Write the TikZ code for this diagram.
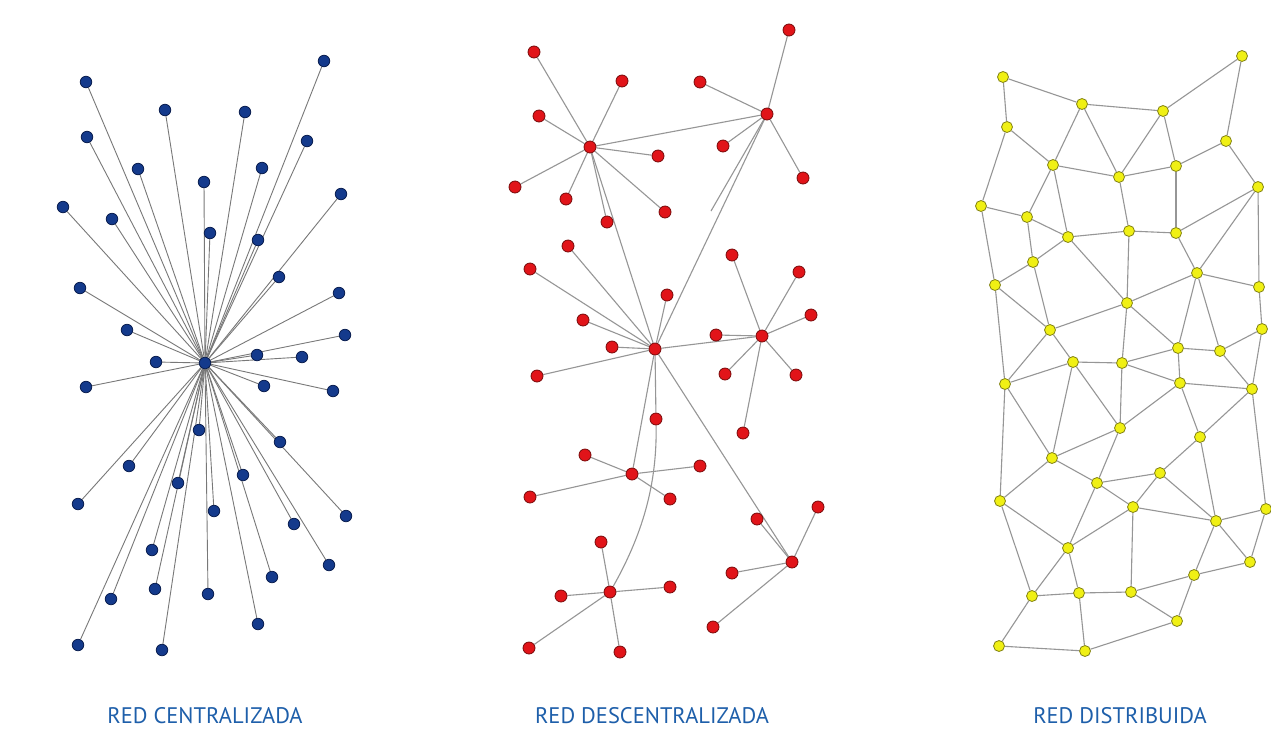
\documentclass[tikz,border=0pt]{standalone}
\usepackage{fontspec}
\newfontfamily\labfont{PT Sans}
\definecolor{bfill}{RGB}{20,58,140}
\definecolor{bdraw}{RGB}{10,30,80}
\definecolor{rfill}{RGB}{225,20,25}
\definecolor{rdraw}{RGB}{120,10,10}
\definecolor{yfill}{RGB}{240,240,20}
\definecolor{ydraw}{RGB}{130,130,20}
\definecolor{edgec}{RGB}{150,150,150}
\definecolor{bedge}{RGB}{120,120,120}
\definecolor{labc}{RGB}{30,95,170}
\pgfdeclarelayer{back}
\pgfdeclarelayer{bg}
\pgfsetlayers{back,bg,main}
\tikzset{
  bnode/.style={circle,fill=bfill,draw=bdraw,line width=0.8pt,inner sep=0pt,minimum size=11.5pt},
  rnode/.style={circle,fill=rfill,draw=rdraw,line width=0.8pt,inner sep=0pt,minimum size=12pt},
  ynode/.style={circle,fill=yfill,draw=ydraw,line width=0.8pt,inner sep=0pt,minimum size=11pt},
  bedge/.style={draw=bedge,line width=0.9pt},
  redge/.style={draw=edgec,line width=1.1pt},
  yedge/.style={draw=edgec,line width=1.1pt},
  lab/.style={text=labc,font=\labfont\fontsize{22.5}{26}\selectfont,inner sep=0pt,anchor=base}
}
\begin{document}
\begin{tikzpicture}[x=1pt,y=-1pt]
\begin{pgfonlayer}{back}
\fill[white] (0,0) rectangle (1271,729);
\end{pgfonlayer}
\useasboundingbox (0,0) rectangle (1271,729);
% ---------------- centralized ----------------
\node[bnode] (bc) at (205,363) {};
\foreach \n/\x/\y in {1/86/82,2/165/110,3/245/112,4/324/61,5/87/137,6/307/141,7/138/169,8/262/168,9/204/182,10/341/194,11/63/207,12/112/219,13/210/233,14/258/240,15/279/277,16/80/288,17/339/293,18/127/330,19/345/335,20/156/362,21/257/355,22/302/357,23/86/387,24/264/386,25/333/391,26/199/430,27/280/442,28/129/466,29/178/483,30/243/475,31/78/504,32/214/511,33/346/516,34/294/524,35/152/550,36/329/565,37/111/599,38/155/589,39/208/594,40/272/577,41/258/624,42/78/645,43/162/650}
{
  \node[bnode] (b\n) at (\x,\y) {};
  \begin{pgfonlayer}{bg}\draw[bedge] (bc) -- (b\n);\end{pgfonlayer}
}
% ---------------- decentralized ----------------
\foreach \n/\x/\y in {rA/590/147,rB/767/114,rC/655/349,rD/762/336,rE/632/474,rF/610/592,rG/792/562,
  a1/534/52,a2/622/81,a3/539/116,a4/658/156,a5/515/187,a6/566/199,a7/607/222,a8/665/212,
  q1/789/30,q2/700/82,q3/723/146,q4/803/178,
  c1/568/246,c2/530/269,c3/667/295,c4/583/320,c5/612/347,c6/537/376,c7/656/419,
  d1/732/255,d2/799/272,d3/811/315,d4/716/335,d5/725/374,d6/796/375,d7/743/433,
  e1/585/455,e2/700/466,e3/530/497,e4/670/499,
  f1/601/542,f2/670/587,f3/561/596,f4/529/648,f5/620/652,
  g1/818/507,g2/757/519,g3/732/573,g4/713/627}
  \node[rnode] (\n) at (\x,\y) {};
\coordinate (bx) at (711,211);
\begin{pgfonlayer}{bg}
\foreach \a/\b in {rA/a1,rA/a2,rA/a3,rA/a4,rA/a5,rA/a6,rA/a7,rA/a8,rA/rB,rA/rC,
  rB/q1,rB/q2,rB/q3,rB/q4,rB/rC,
  rC/c1,rC/c2,rC/c3,rC/c4,rC/c5,rC/c6,rC/c7,rC/rD,rC/rE,rC/rG,
  rD/d1,rD/d2,rD/d3,rD/d4,rD/d5,rD/d6,rD/d7,
  rE/e1,rE/e2,rE/e3,rE/e4,
  rF/f1,rF/f2,rF/f3,rF/f4,rF/f5,
  rG/g1,rG/g2,rG/g3,rG/g4}
  \draw[redge] (\a) -- (\b);
\draw[redge] (rB.center) -- (bx);
\draw[redge] (c7) .. controls (657,480) and (645,530) .. (rF);
\end{pgfonlayer}
% ---------------- distributed ----------------
\foreach \n/\x/\y in {1/1003/77,2/1082/104,3/1163/111,4/1242/56,5/1007/127,6/1226/141,7/1053/165,8/1119/177,9/1176/166,10/1258/187,11/981/206,12/1027/217,13/1068/237,14/1129/231,15/1176/233,16/1033/262,17/1197/273,18/995/285,19/1259/287,20/1127/303,21/1050/330,22/1262/329,23/1178/348,24/1220/351,25/1073/362,26/1122/363,27/1005/384,28/1180/383,29/1252/389,30/1120/428,31/1200/437,32/1052/458,33/1160/473,34/1097/483,35/1000/501,36/1133/507,37/1266/509,38/1216/521,39/1068/548,40/1250/562,41/1194/575,42/1032/596,43/1079/593,44/1131/592,45/1177/621,46/999/646,47/1085/651}
  \node[ynode] (y\n) at (\x,\y) {};
\begin{pgfonlayer}{bg}
\foreach \a/\b in {1/2,2/3,3/4,1/5,4/6,5/7,2/7,2/8,3/8,3/9,7/8,8/9,9/6,6/10,5/11,7/12,7/13,11/12,12/13,8/14,13/14,14/15,9/15,10/15,10/17,10/19,13/16,16/18,12/16,11/18,13/20,14/20,15/17,17/20,17/19,17/23,17/24,18/21,16/21,20/21,20/26,20/23,19/22,22/24,22/29,23/24,23/26,23/28,24/29,21/25,21/27,18/27,25/26,25/27,26/28,28/29,26/30,28/30,28/31,29/31,25/30,25/32,27/32,30/32,30/34,31/33,31/38,29/37,32/35,32/34,34/33,34/36,33/36,33/38,36/38,37/38,34/39,36/39,35/39,35/42,27/35,36/44,38/40,37/40,38/41,40/41,39/42,39/43,42/43,43/44,44/41,44/45,41/45,42/46,43/47,46/47,47/45}
  \draw[yedge] (y\a) -- (y\b);
\end{pgfonlayer}
% ---------------- labels ----------------
\node[lab] (l1) at (205,723) {RED CENTRALIZADA};
\node[lab] (l2) at (652,723) {RED DESCENTRALIZADA};
\node[lab] (l3) at (1120,723) {RED DISTRIBUIDA};
\end{tikzpicture}
\end{document}
